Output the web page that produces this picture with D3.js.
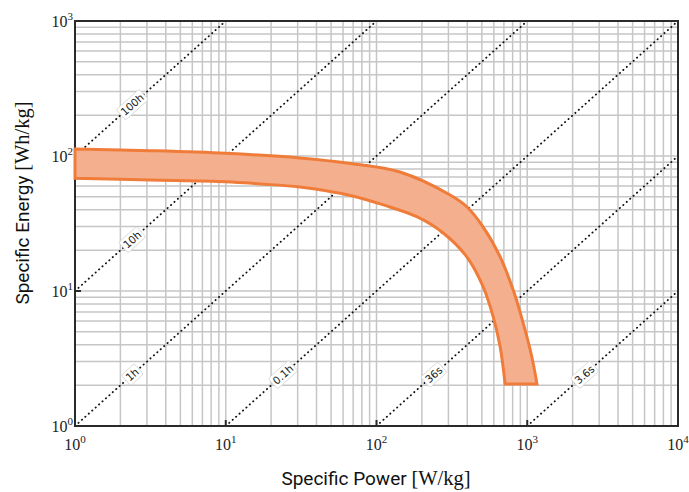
<!DOCTYPE html>
<html>
<head>
<meta charset="utf-8">
<script src="https://cdn.jsdelivr.net/npm/d3@7"></script>
<style>
  body { margin: 0; background: #fff; }
  svg { display: block; }
</style>
</head>
<body>
<svg id="chart" width="689" height="492"></svg>
<script>
// band edges (P in W/kg, E in Wh/kg)
var upperP = [1, 3.15, 10, 31, 67, 143, 308, 397, 509, 661, 806, 939, 1072, 1160];
var upperE = [112.7, 109.5, 104.7, 96.7, 88.0, 76.1, 51.4, 42.1, 29.9, 17.9, 10.2, 5.8, 3.26, 2.05];
var lowerP = [1, 3.15, 10, 16.9, 31, 67, 111, 185, 277, 397, 509, 594, 661, 713];
var lowerE = [68.4, 66.4, 64.5, 62.1, 58.9, 51.0, 43.4, 35.5, 26.9, 17.9, 10.8, 6.45, 3.87, 2.05];

// constant discharge time lines, E = t * P (t in hours)
var lineHours = [100, 10, 1, 0.1, 0.01, 0.001];
var lineLabels = ["100h", "10h", "1h", "0.1h", "36s", "3.6s"];

var xExponents = [0, 1, 2, 3, 4];
var yExponents = [0, 1, 2, 3];

var svg = d3.select("#chart");
var x = d3.scaleLog().domain([1, 1e4]).range([75, 678]);
var y = d3.scaleLog().domain([1, 1e3]).range([426, 21]);

svg.append("clipPath").attr("id", "plotclip")
   .append("rect")
   .attr("x", 75).attr("y", 21)
   .attr("width", 603).attr("height", 405);

// grid, major + minor
var grid = svg.append("g").attr("stroke", "#c6c6c6").attr("stroke-width", 1.5);
grid.selectAll(".vx").data(x.ticks()).enter()
    .append("line")
    .attr("x1", d => x(d)).attr("x2", d => x(d))
    .attr("y1", 21).attr("y2", 426);
grid.selectAll(".hy").data(y.ticks()).enter()
    .append("line")
    .attr("y1", d => y(d)).attr("y2", d => y(d))
    .attr("x1", 75).attr("x2", 678);

// time lines
var tl = svg.append("g").attr("clip-path", "url(#plotclip)");
tl.selectAll("line").data(lineHours).enter()
  .append("line")
  .attr("x1", t => x(Math.max(1, 1 / t)))
  .attr("y1", t => y(t * Math.max(1, 1 / t)))
  .attr("x2", t => x(Math.min(1e4, 1000 / t)))
  .attr("y2", t => y(t * Math.min(1e4, 1000 / t)))
  .attr("stroke", "#111")
  .attr("stroke-width", 1.8)
  .attr("stroke-linecap", "round")
  .attr("stroke-dasharray", "0.3,4.3");

// frame
svg.append("rect")
   .attr("x", 75).attr("y", 21)
   .attr("width", 603).attr("height", 405)
   .attr("fill", "none")
   .attr("stroke", "#2a2a2a")
   .attr("stroke-width", 2);

// major ticks (inward)
var ticks = svg.append("g").attr("stroke", "#2a2a2a").attr("stroke-width", 2);
ticks.selectAll(".xt").data(xExponents).enter()
     .append("line")
     .attr("x1", d => x(Math.pow(10, d))).attr("x2", d => x(Math.pow(10, d)))
     .attr("y1", 426).attr("y2", 420);
ticks.selectAll(".yt").data(yExponents).enter()
     .append("line")
     .attr("y1", d => y(Math.pow(10, d))).attr("y2", d => y(Math.pow(10, d)))
     .attr("x1", 75).attr("x2", 81);

// line labels with white boxes
var angle = -Math.atan2(y(1) - y(10), x(10) - x(1)) * 180 / Math.PI;
var labelAt = 2.4;
var lab = svg.append("g");
lineHours.forEach(function(t, i) {
    var p = Math.max(labelAt, labelAt / t);
    var g = lab.append("g")
        .attr("transform", "translate(" + x(p) + "," + y(t * p) + ") rotate(" + angle + ")");
    var box = g.append("rect");
    var txt = g.append("text")
        .attr("text-anchor", "middle")
        .attr("dy", "0.35em")
        .attr("font-family", "DejaVu Sans, sans-serif")
        .attr("font-size", 10.5)
        .attr("fill", "#222")
        .text(lineLabels[i]);
    var w = txt.node().getComputedTextLength() + 4;
    box.attr("x", -w / 2).attr("y", -7).attr("width", w).attr("height", 14)
       .attr("rx", 2)
       .attr("fill", "#fff").attr("stroke", "#d4d4d4").attr("stroke-width", 0.8);
});

// the band
var edge = d3.line().curve(d3.curveCatmullRom.alpha(0.5));
var up = upperP.map((p, i) => [x(p), y(upperE[i])]);
var lo = lowerP.map((p, i) => [x(p), y(lowerE[i])]).reverse();
var upPath = edge(up);
var loPath = edge(lo);
svg.append("path")
   .attr("d", upPath + "L" + loPath.slice(1) + "Z")
   .attr("fill", "#f4b08e")
   .attr("stroke", "#f07c3a")
   .attr("stroke-width", 3)
   .attr("stroke-linejoin", "miter");

// tick labels
function powLabel(sel, e) {
    sel.append("tspan").text("10");
    sel.append("tspan").attr("dy", -7).attr("font-size", 11).text(e);
}
svg.append("g").selectAll("text").data(xExponents).enter()
   .append("text")
   .attr("x", d => x(Math.pow(10, d)))
   .attr("y", 450)
   .attr("text-anchor", "middle")
   .attr("font-family", "Liberation Serif, serif")
   .attr("font-size", 16)
   .attr("fill", "#222")
   .each(function(d) { powLabel(d3.select(this), d); });
svg.append("g").selectAll("text").data(yExponents).enter()
   .append("text")
   .attr("x", 73)
   .attr("y", d => y(Math.pow(10, d)) + 6)
   .attr("text-anchor", "end")
   .attr("font-family", "Liberation Serif, serif")
   .attr("font-size", 16)
   .attr("fill", "#222")
   .each(function(d) { powLabel(d3.select(this), d); });

// axis titles
var xt = svg.append("text")
   .attr("x", 376).attr("y", 485)
   .attr("text-anchor", "middle")
   .attr("font-family", "Roboto, sans-serif")
   .attr("font-size", 19)
   .attr("fill", "#111");
xt.append("tspan").text("Specific Power ");
xt.append("tspan").attr("font-family", "Liberation Serif, serif").attr("font-size", 20.5).text("[W/kg]");

var yt = svg.append("text")
   .attr("transform", "translate(29,203) rotate(-90)")
   .attr("text-anchor", "middle")
   .attr("font-family", "Roboto, sans-serif")
   .attr("font-size", 19)
   .attr("fill", "#111");
yt.append("tspan").text("Specific Energy ");
yt.append("tspan").attr("font-family", "Liberation Serif, serif").attr("font-size", 20.5).text("[Wh/kg]");
</script>
</body>
</html>
